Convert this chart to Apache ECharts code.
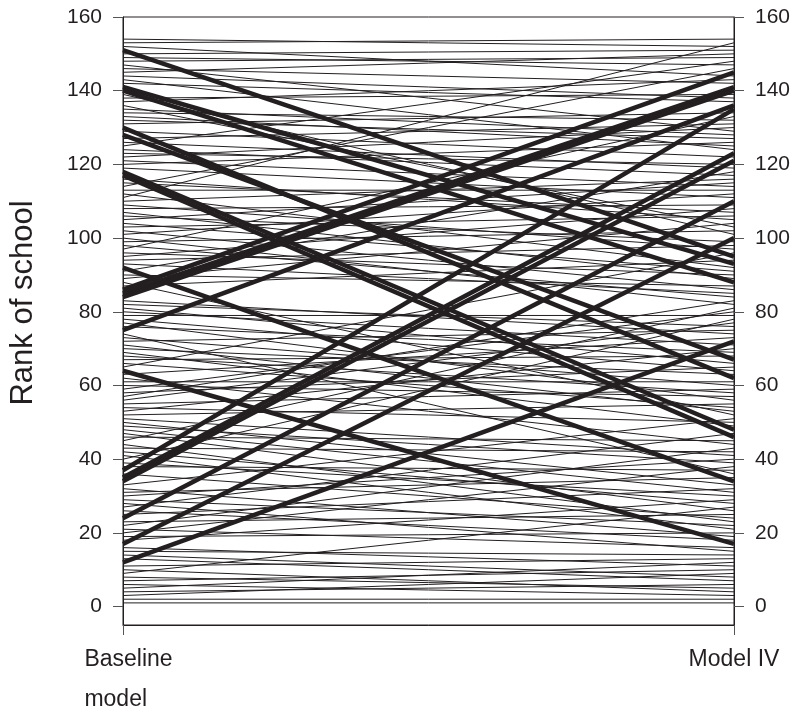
<!DOCTYPE html>
<html><head><meta charset="utf-8">
<script src="https://cdn.jsdelivr.net/npm/echarts@6/dist/echarts.min.js"></script>
<style>html,body{margin:0;padding:0;background:#fff}#c{width:794px;height:713px}</style>
</head><body><div id="c"></div>
<script>
// Category labels on the x axis
const xLabels = ['Baseline\nmodel', 'Model IV'];
// Tick labels on both y axes
const yTicks = [0, 20, 40, 60, 80, 100, 120, 140, 160];

// Schools with modest rank changes (thin lines): rank under baseline model, rank under Model IV
const thinBaseline = [1,2,3,4,5,6,7,8,9,10,11,13,14,15,16,
  18,19,20,21,22,23,25,26,27,28,29,30,31,32,33,36,38,39,40,41,42,43,44,45,46,47,48,49,50,51,
  52,53,54,55,56,57,58,59,60,61,62,63,65,66,67,68,69,70,71,72,73,74,76,77,78,79,80,81,82,83,
  87,88,89,90,91,93,94,95,96,97,98,99,100,101,102,103,104,105,106,107,108,109,110,111,112,113,114,115,116,119,
  120,121,122,123,124,125,126,127,129,131,132,133,134,135,136,
  137,138,139,142,143,144,145,146,147,148,149,150,152,153,154];
const thinModelIV = [1,2,9,6,12,3,10,5,27,4,13,7,8,14,11,
  29,20,38,16,43,25,32,18,47,15,22,40,35,19,51,24,37,30,78,21,28,42,23,81,45,26,31,39,33,41,
  55,70,50,59,77,83,65,80,57,61,44,73,96,54,68,58,49,63,53,75,60,36,69,56,64,79,71,66,76,74,
  94,52,104,87,118,85,98,108,90,133,84,102,82,112,86,106,91,115,99,89,109,97,116,153,92,113,146,107,105,111,
  126,114,130,120,117,148,119,131,122,134,127,125,132,128,103,
  143,139,101,137,124,138,150,142,129,149,147,151,144,154,152];

// Schools with large rank changes (thick lines)
const thickBaseline = [151,141,140,130,128,118,117,92,64,86,85,84,75,37,35,34,24,17,12];
const thickModelIV  = [95,93,88,62,67,48,46,34,17,145,141,140,136,135,123,121,110,100,72];

const ink = '#231f20';
const font = '"Liberation Sans", Arial, sans-serif';
const series = [];
function addLines(b, m, w, z) {
  for (let i = 0; i < b.length; i++) {
    series.push({
      type: 'line', data: [[0, b[i]], [1, m[i]]], symbol: 'none', showSymbol: false,
      silent: true, animation: false, z: z, emphasis: { disabled: true },
      lineStyle: { color: ink, width: w, cap: 'butt' }
    });
  }
}
addLines(thinBaseline, thinModelIV, 1, 2);
addLines(thickBaseline, thickModelIV, 4.5, 3);

function yAxisDef(pos) {
  return {
    type: 'value', position: pos, min: -5, max: 160,
    axisLine: { show: true, onZero: false, lineStyle: { color: ink, width: 1 } },
    axisTick: { show: true, inside: false, length: 10, customValues: yTicks, lineStyle: { color: '#555', width: 1 } },
    axisLabel: { customValues: yTicks, color: ink, fontSize: 21, fontFamily: font, margin: 21 },
    splitLine: { show: false }
  };
}

const yLeft = yAxisDef('left');
yLeft.name = 'Rank of school';
yLeft.nameLocation = 'middle';
yLeft.nameGap = 84;
yLeft.nameTextStyle = { fontSize: 31, fontFamily: font, color: ink, padding: [0, 0, 0, 36] };

const chart = echarts.init(document.getElementById('c'), null, { renderer: 'canvas' });
chart.setOption({
  animation: false,
  backgroundColor: '#fff',
  grid: { left: 122, right: 60, top: 17, bottom: 88, show: true, borderColor: ink, borderWidth: 1, backgroundColor: 'transparent' },
  xAxis: {
    type: 'value', min: 0, max: 1,
    axisLine: { show: true, onZero: false, lineStyle: { color: ink, width: 1 } },
    axisTick: { show: true, length: 10, customValues: [0, 1], lineStyle: { color: '#555', width: 1 } },
    axisLabel: {
      customValues: [0, 1], margin: 15,
      formatter: function (v) {
        const t = v === 0 ? xLabels[0] : xLabels[1];
        const tag = v === 0 ? 'b' : 'a';
        return t.split('\n').map(function (s) { return '{' + tag + '|' + s + '}'; }).join('\n');
      },
      rich: {
        a: { fontSize: 23, fontFamily: font, color: ink, lineHeight: 40, align: 'left' },
        b: { fontSize: 23, fontFamily: font, color: ink, lineHeight: 40, align: 'left', padding: [0, 0, 0, 11] }
      }
    },
    splitLine: { show: false }
  },
  yAxis: [yLeft, yAxisDef('right')],
  series: series
});
</script>
</body></html>
